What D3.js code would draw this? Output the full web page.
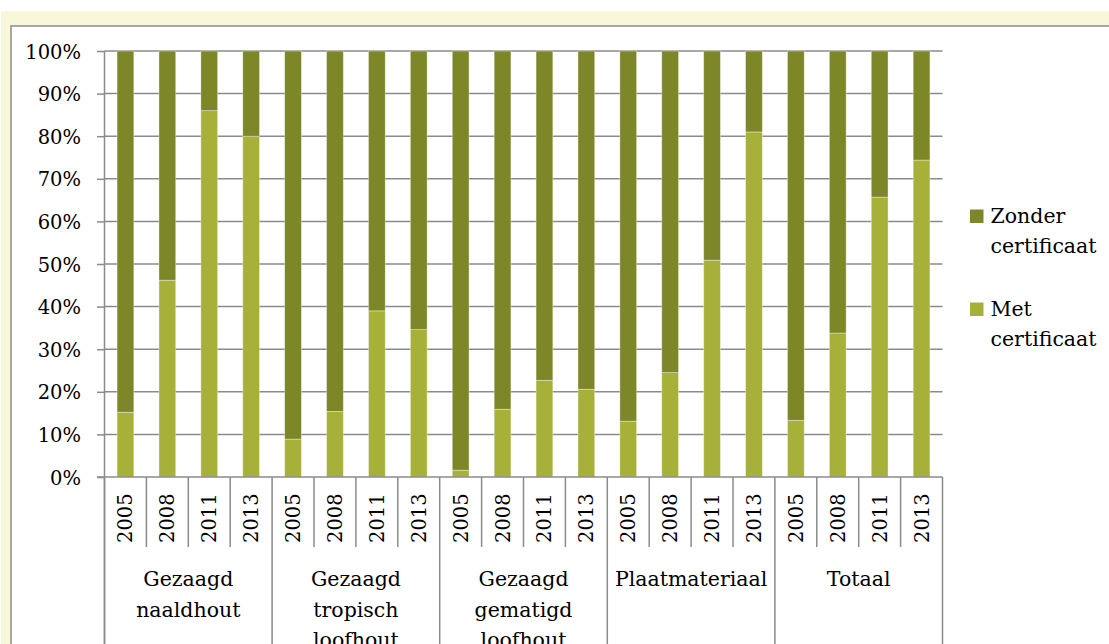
<!doctype html>
<html lang="nl">
  <head>
    <meta charset="utf-8">
    <title>Certificering hout</title>
    <style>
      body{margin:0;background:#fff;}
      svg{display:block;}
      text{font-family:"DejaVu Serif", "Liberation Serif", serif;fill:#000;}
    </style>
  </head>
  <body>
    <div class="holder"></div>
    <script src="https://cdn.jsdelivr.net/npm/d3@7"></script>
    <script>

      // categories and years on the x axis
      var categories = [
        ["Gezaagd", "naaldhout"],
        ["Gezaagd", "tropisch", "loofhout"],
        ["Gezaagd", "gematigd", "loofhout"],
        ["Plaatmateriaal"],
        ["Totaal"]
      ];
      var years = ["2005", "2008", "2011", "2013"];

      // share (%) per bar, in order category x year
      var met    = [15.2, 46.2, 86.0, 80.0,  8.9, 15.4, 39.0, 34.6,  1.6, 15.9, 22.7, 20.6, 13.1, 24.5, 50.9, 81.0, 13.3, 33.8, 65.7, 74.4];
      var zonder = [84.8, 53.8, 14.0, 20.0, 91.1, 84.6, 61.0, 65.4, 98.4, 84.1, 77.3, 79.4, 86.9, 75.5, 49.1, 19.0, 86.7, 66.2, 34.3, 25.6];

      var yTicks = [0, 10, 20, 30, 40, 50, 60, 70, 80, 90, 100];

      var colors = {met: "#a7b13a", zonder: "#7d8727"};

      /******** chart ******************/

      var W = 1109, H = 644;
      var pLeft = 104.5, pRight = 942.5, pTop = 51, pBottom = 477;
      var gridColor = "#8b8b8b";

      var svg = d3.select(".holder")
          .append("svg")
          .attr("width", W)
          .attr("height", H);

      // yellow outer box + white inner frame
      svg.append("rect").attr("x", 1).attr("y", 11).attr("width", W).attr("height", H)
          .style("fill", "#f8f7da");
      svg.append("rect").attr("x", 11).attr("y", 26).attr("width", W).attr("height", H)
          .style("fill", "#fff").style("stroke", gridColor).style("stroke-width", 1.5);

      //flat table of bars
      var rows = [];
      categories.forEach(function(c, ci){
        years.forEach(function(yr, yi){
          var i = ci * years.length + yi;
          rows.push({key: ci + "|" + yr, cat: ci, year: yr, met: met[i], zonder: zonder[i]});
        });
      });

      var x = d3.scaleBand()
          .domain(rows.map(function(d){ return d.key; }))
          .range([pLeft, pRight])
          .paddingInner(0.6)
          .paddingOuter(0.3);

      var y = d3.scaleLinear().domain([0, 100]).range([pBottom, pTop]);

      var step = x.step();
      function slotStart(k){ return x(k) - x.paddingOuter() * step; }

      // gridlines
      svg.append("g")
          .selectAll("line")
          .data(yTicks.slice(1))
          .enter().append("line")
          .attr("x1", pLeft).attr("x2", pRight)
          .attr("y1", function(d){ return y(d); })
          .attr("y2", function(d){ return y(d); })
          .style("stroke", gridColor).style("stroke-width", 1.5);

      // stacked bars
      var stack = d3.stack().keys(["met", "zonder"]);
      var layers = stack(rows);

      svg.append("g")
          .selectAll("g")
          .data(layers)
          .enter().append("g")
          .style("fill", function(d){ return colors[d.key]; })
          .selectAll("rect")
          .data(function(d){ return d; })
          .enter().append("rect")
          .attr("x", function(d){ return x(d.data.key); })
          .attr("width", x.bandwidth())
          .attr("y", function(d){ return y(d[1]); })
          .attr("height", function(d){ return y(d[0]) - y(d[1]); })
          .style("stroke", "rgba(255,255,255,0.45)")
          .style("stroke-width", 0.8);

      // y axis
      var yAxis = d3.axisLeft(y)
          .tickValues(yTicks)
          .tickSize(7.5)
          .tickPadding(16)
          .tickFormat(function(d){ return d + "%"; });

      var ya = svg.append("g")
          .attr("transform", "translate(" + pLeft + ",0)")
          .call(yAxis);
      ya.select(".domain").remove();
      ya.selectAll(".tick line").style("stroke", gridColor).style("stroke-width", 1.5);
      ya.selectAll(".tick text")
          .style("font-size", "19.5px")
          .style("font-family", "DejaVu Serif")
          .attr("dy", "0.36em");
      ya.append("line")
          .attr("x1", 0).attr("x2", 0).attr("y1", pTop).attr("y2", H)
          .style("stroke", gridColor).style("stroke-width", 1.5);

      // x axis: baseline, year separators, category separators
      var xa = svg.append("g");
      xa.append("line")
          .attr("x1", pLeft - 7.5).attr("x2", pRight).attr("y1", pBottom).attr("y2", pBottom)
          .style("stroke", gridColor).style("stroke-width", 1.5);

      xa.selectAll(".yearsep")
          .data(rows.filter(function(d, i){ return i % years.length !== 0; }))
          .enter().append("line")
          .attr("x1", function(d){ return slotStart(d.key); })
          .attr("x2", function(d){ return slotStart(d.key); })
          .attr("y1", pBottom).attr("y2", 547)
          .style("stroke", gridColor).style("stroke-width", 1.5);

      var catEdges = categories.map(function(c, ci){ return slotStart(ci + "|" + years[0]); }).concat([pRight]);
      xa.selectAll(".catsep")
          .data(catEdges)
          .enter().append("line")
          .attr("x1", function(d){ return d; })
          .attr("x2", function(d){ return d; })
          .attr("y1", pBottom).attr("y2", H)
          .style("stroke", gridColor).style("stroke-width", 1.5);

      // year labels (rotated)
      xa.selectAll(".yr")
          .data(rows)
          .enter().append("text")
          .attr("transform", function(d){ return "translate(" + (x(d.key) + x.bandwidth() / 2) + ",543) rotate(-90)"; })
          .attr("dy", "0.36em")
          .style("font-size", "19.5px")
          .text(function(d){ return d.year; });

      // category labels
      var catW = step * years.length;
      var cl = xa.selectAll(".cat")
          .data(categories)
          .enter().append("text")
          .attr("text-anchor", "middle")
          .style("font-size", "20.5px")
          .attr("transform", function(d, i){ return "translate(" + (catEdges[i] + catW / 2) + ",586)"; });
      cl.selectAll("tspan")
          .data(function(d){ return d; })
          .enter().append("tspan")
          .attr("x", 0)
          .attr("y", function(d, i){ return i * 30.5; })
          .text(function(d){ return d; });

      // legend
      var legendItems = [
        {key: "zonder", lines: ["Zonder", "certificaat"], y: 223},
        {key: "met", lines: ["Met", "certificaat"], y: 316}
      ];
      var lg = svg.append("g").selectAll("g")
          .data(legendItems)
          .enter().append("g")
          .attr("transform", function(d){ return "translate(970," + d.y + ")"; });
      lg.append("rect")
          .attr("x", 0).attr("y", -13.5).attr("width", 13.5).attr("height", 13.5)
          .style("fill", function(d){ return colors[d.key]; });
      lg.append("text")
          .style("font-size", "20.5px")
          .selectAll("tspan")
          .data(function(d){ return d.lines; })
          .enter().append("tspan")
          .attr("x", 20.5)
          .attr("y", function(d, i){ return i * 30; })
          .text(function(d){ return d; });

    </script>
  </body>
</html>
